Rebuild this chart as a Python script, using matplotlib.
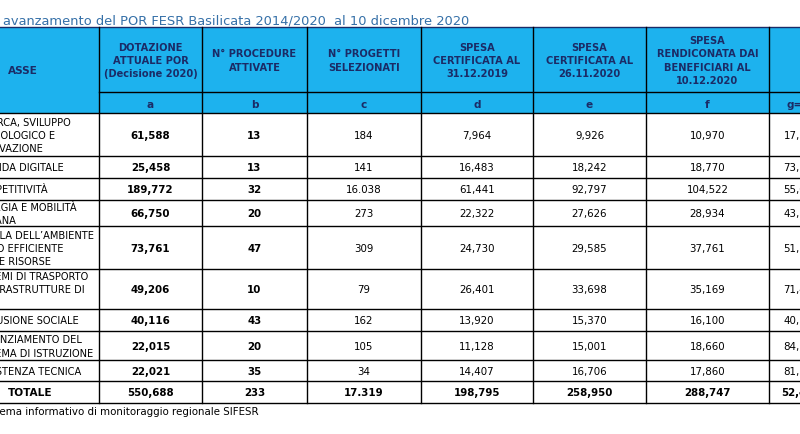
import matplotlib
matplotlib.use("Agg")
import matplotlib.pyplot as plt
from matplotlib.patches import Rectangle

# ---- dati (milioni di euro) ----
assi = [
    "RICERCA, SVILUPPO\nTECNOLOGICO E\nINNOVAZIONE",
    "AGENDA DIGITALE",
    "COMPETITIVITÀ",
    "ENERGIA E MOBILITÀ\nURBANA",
    "TUTELA DELL’AMBIENTE\nE USO EFFICIENTE\nDELLE RISORSE",
    "SISTEMI DI TRASPORTO\nE INFRASTRUTTURE DI\nRETE",
    "INCLUSIONE SOCIALE",
    "POTENZIAMENTO DEL\nSISTEMA DI ISTRUZIONE",
    "ASSISTENZA TECNICA",
]
dotazione = [61.588, 25.458, 189.772, 66.750, 73.761, 49.206, 40.116, 22.015, 22.021]
procedure = [13, 13, 32, 20, 47, 10, 43, 20, 35]
progetti = [184, 141, 16038, 273, 309, 79, 162, 105, 34]
spesa_2019 = [7.964, 16.483, 61.441, 22.322, 24.730, 26.401, 13.920, 11.128, 14.407]
spesa_nov20 = [9.926, 18.242, 92.797, 27.626, 29.585, 33.698, 15.370, 15.001, 16.706]
rendicontata = [10.970, 18.770, 104.522, 28.934, 37.761, 35.169, 16.100, 18.660, 17.860]
perc_g = [17.81, 73.73, 55.08, 43.35, 51.19, 71.47, 40.13, 84.76, 81.10]

totali = [550.688, 233, 17319, 198.795, 258.950, 288.747, 52.43]

intestazioni = [
    "DOTAZIONE\nATTUALE POR\n(Decisione 2020)",
    "N° PROCEDURE\nATTIVATE",
    "N° PROGETTI\nSELEZIONATI",
    "SPESA\nCERTIFICATA AL\n31.12.2019",
    "SPESA\nCERTIFICATA AL\n26.11.2020",
    "SPESA\nRENDICONATA DAI\nBENEFICIARI AL\n10.12.2020",
    "",
]
lettere = ["a", "b", "c", "d", "e", "f", "g=f/a"]

titolo = "avanzamento del POR FESR Basilicata 2014/2020  al 10 dicembre 2020"
fonte = "Fonte: Sistema informativo di monitoraggio regionale SIFESR"

# ---- layout (pixel) ----
col_x = [-40, 99, 202, 307, 421, 533, 646, 769, 840]
g_center = 803
head_top, head_mid, head_bot = 28, 93, 114
row_y = [114, 157, 179, 201, 227, 270, 310, 332, 361, 382, 404]

HEAD_BG = "#1DB2EE"
HEAD_TXT = "#1B2B66"
TITLE_C = "#3570A8"


def fmt_mil(v):
    return f"{v:.3f}".replace(".", ",")


def fmt_int(v):
    return f"{v:,}".replace(",", ".")


def fmt_perc(v):
    return f"{v:.2f}%".replace(".", ",")


def centro(c):
    if c == 6:
        return g_center
    return (col_x[c + 1] + col_x[c + 2]) / 2


fig = plt.figure(figsize=(8, 4.35), dpi=100)
ax = fig.add_axes([0, 0, 1, 1])
ax.set_xlim(0, 800)
ax.set_ylim(435, 0)
ax.axis("off")

# header background
ax.add_patch(Rectangle((col_x[0], head_top), col_x[-1] - col_x[0], head_bot - head_top,
                       facecolor=HEAD_BG, edgecolor="none", zorder=0))

lw = 1.0
ax.plot([col_x[0], col_x[-1]], [head_top, head_top], color="#1B2B66", lw=lw)
ax.plot([col_x[1], col_x[-1]], [head_mid, head_mid], color="black", lw=lw)
for y in row_y:
    ax.plot([col_x[0], col_x[-1]], [y, y], color="black", lw=lw)
for x in col_x[1:-1]:
    ax.plot([x, x], [head_top, row_y[-1]], color="black", lw=lw)

# header texts
ax.text(8, (head_top + head_bot) / 2, "ASSE", ha="left", va="center",
        fontsize=7.6, fontweight="bold", color=HEAD_TXT)
for i, (h, l) in enumerate(zip(intestazioni, lettere)):
    cx = centro(i)
    ax.text(cx, (head_top + head_mid) / 2 + 0.5, h, ha="center", va="center",
            fontsize=7.1, fontweight="bold", color=HEAD_TXT, linespacing=1.38)
    ax.text(cx, (head_mid + head_bot) / 2 + 1, l, ha="center", va="center",
            fontsize=7.6, fontweight="bold", color=HEAD_TXT)

# body
colonne = [
    [fmt_mil(v) for v in dotazione],
    [str(v) for v in procedure],
    [fmt_int(v) for v in progetti],
    [fmt_mil(v) for v in spesa_2019],
    [fmt_mil(v) for v in spesa_nov20],
    [fmt_mil(v) for v in rendicontata],
    [fmt_perc(v) for v in perc_g],
]
grassetto = [True, True, False, False, False, False, False]

for r, nome in enumerate(assi):
    cy = (row_y[r] + row_y[r + 1]) / 2 + 0.5
    ax.text(-26, cy, nome, ha="left", va="center", fontsize=7.1,
            color="black", linespacing=1.38)
    for c, vals in enumerate(colonne):
        ax.text(centro(c), cy, vals[r], ha="center", va="center", fontsize=7.4,
                fontweight="bold" if grassetto[c] else "normal", color="black")

# totale
cy = (row_y[-2] + row_y[-1]) / 2 + 0.5
ax.text(8, cy, "TOTALE", ha="left", va="center", fontsize=7.6,
        fontweight="bold", color="black")
tot_txt = [fmt_mil(totali[0]), str(totali[1]), fmt_int(totali[2]),
           fmt_mil(totali[3]), fmt_mil(totali[4]), fmt_mil(totali[5]),
           fmt_perc(totali[6])]
for c, t in enumerate(tot_txt):
    ax.text(centro(c), cy, t, ha="center", va="center", fontsize=7.4,
            fontweight="bold", color="black")

ax.text(3, 21, titolo, ha="left", va="center", fontsize=9.4, color=TITLE_C)
ax.text(-55, 412, fonte, ha="left", va="center", fontsize=7.4, color="black")

fig.savefig("out.png", dpi=100)
